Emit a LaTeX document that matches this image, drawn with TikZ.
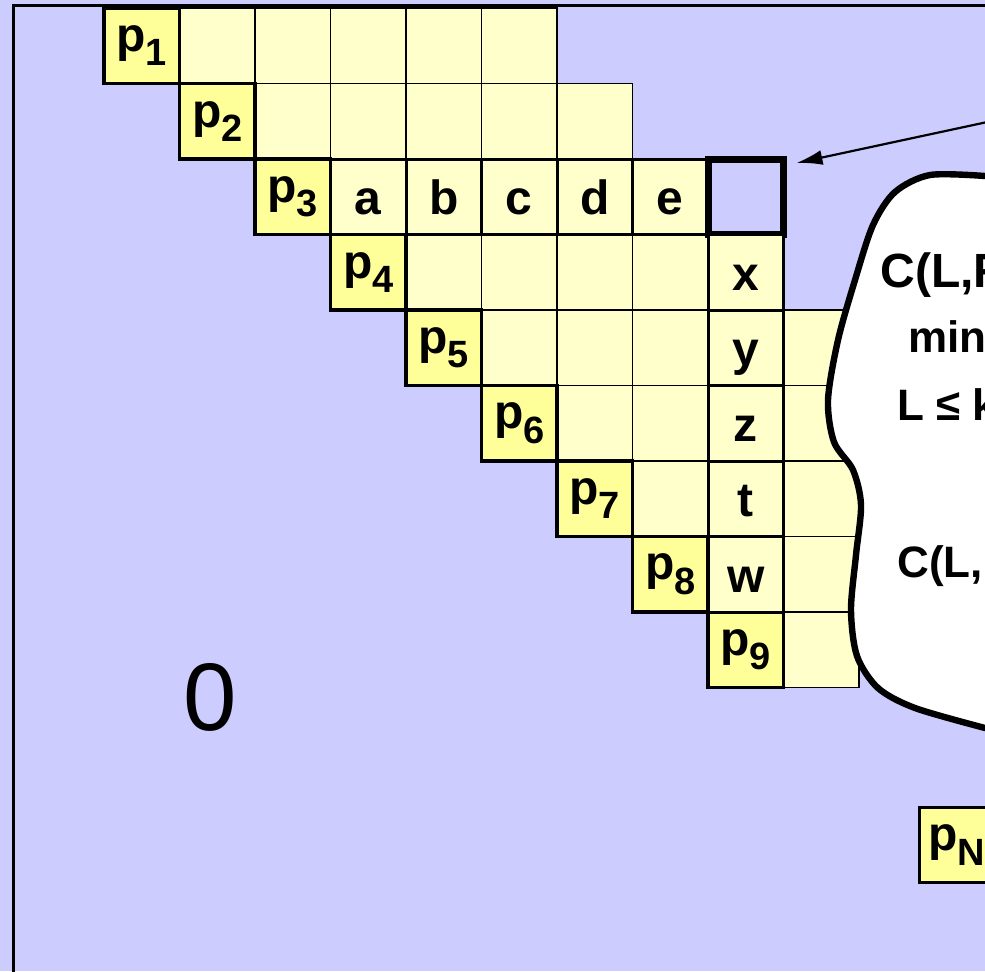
\documentclass[tikz,border=0pt]{standalone}
\usepackage{fontspec}
\setmainfont{Liberation Sans}
\usepackage{xcolor}
\usepackage{tikz}
\usetikzlibrary{
    positioning,
    arrows.meta
}

\definecolor{bgblue}{HTML}{CCCCFF}
\definecolor{cellpale}{HTML}{FFFFCC}
\definecolor{cellgold}{HTML}{FFFF99}

\newcommand{\pidx}[1]{p\raisebox{-0.3em}{\fontsize{19}{19}\selectfont #1}}

\begin{document}
\begin{tikzpicture}[
    x=0.5pt, y=-0.5pt,
    node distance=0pt,
    cell/.style={
        rectangle,
        draw,
        fill=cellpale,
        line width=0.8pt,
        minimum size=37.75pt,
        inner sep=0pt,
        outer sep=0pt,
        font=\fontsize{24}{28}\selectfont\bfseries
    },
    pcell/.style={cell, fill=cellgold, line width=1.6pt},
    hcell/.style={cell, line width=1.5pt, text height=18pt, text depth=0pt},
    curbox/.style={cell, fill=none, line width=3.5pt},
    cloudtext/.style={anchor=base west, inner sep=0pt, font=\fontsize{22}{26}\selectfont\bfseries},
    arrow/.style={-{Latex[length=13pt,width=7.5pt]}, line width=1.1pt}
]

\useasboundingbox (0,0) rectangle (985,971);
\clip (0,0) rectangle (985,971);
\fill[bgblue] (0,0) rectangle (985,971);
\draw[line width=1.5pt] (13,1100) -- (13,5) -- (1100,5);

% plain cells of the table
\foreach \r/\a/\b in {0/1/5, 1/2/6, 3/4/7, 4/5/7, 5/6/7, 6/7/7}
    \foreach \c in {\a,...,\b}
        \node[cell] (m-\r-\c) at ({141.75+75.5*\c},{45.75+75.5*\r}) {};
\foreach \r in {4,...,8}
    \node[cell] (m-\r-9) at ({141.75+75.5*9},{45.75+75.5*\r}) {};

% diagonal
\foreach \k in {1,...,9}
    \node[pcell] (p\k) at ({141.75+75.5*(\k-1)},{45.75+75.5*(\k-1)}) {\pidx{\k}};

% row and column used for the new entry
\node[hcell, right=of p3] (ca) {a};
\node[hcell, right=of ca] (cb) {b};
\node[hcell, right=of cb] (cc) {c};
\node[hcell, right=of cc] (cd) {d};
\node[hcell, right=of cd] (ce) {e};
\node[curbox, right=of ce] (cur) {};
\node[hcell, below=of cur] (cx) {x};
\node[hcell, below=of cx] (cy) {y};
\node[hcell, below=of cy] (cz) {z};
\node[hcell, below=of cz] (ct) {t};
\node[hcell, below=of ct] (cw) {w};

\node[pcell] (pN) at (957,845) {\pidx{N}};
\node[font=\fontsize{48}{50}\selectfont] (zero) at (210,697) {0};

% cloud
\filldraw[fill=white, line width=3.2pt]
    plot[smooth] coordinates {(985,176) (930,175) (895,192) (873,225) (855,280)
        (838,340) (828,400) (834,442) (853,470) (861,505) (856,555) (851,610)
        (857,656) (878,688) (915,708) (985,728)}
    -- (1100,735) -- (1100,170) -- cycle;

\node[cloudtext, font=\fontsize{24}{28}\selectfont\bfseries] (c1) at (880,287) {C(L,R};
\node[cloudtext] (c2) at (908,352) {min};
\node[cloudtext] (c3) at (897,420) {L ≤ k};
\node[cloudtext] (c4) at (897,577) {C(L,};

\coordinate (src) at (992,121);
\draw[arrow] (src) -- ([xshift=6.5pt,yshift=-2pt]cur.north east);

\end{tikzpicture}
\end{document}
